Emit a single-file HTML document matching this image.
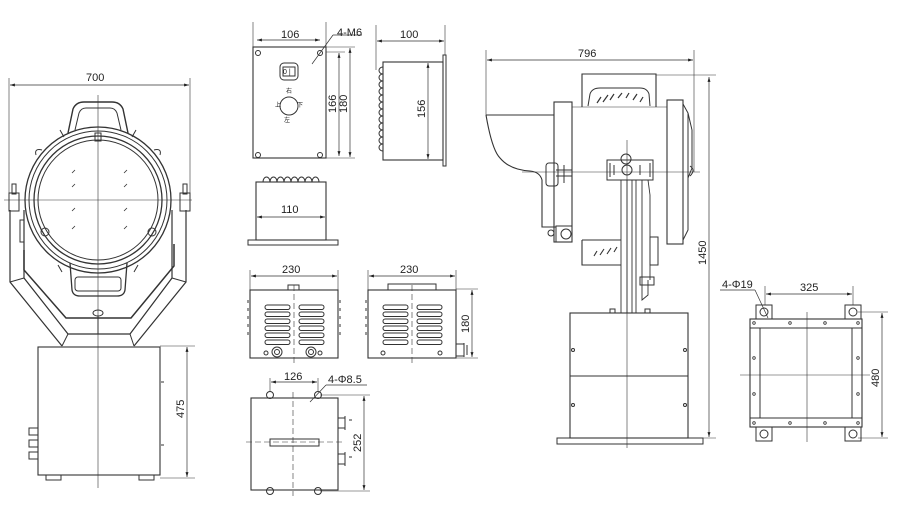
<!DOCTYPE html>
<html><head><meta charset="utf-8"><style>
html,body{margin:0;padding:0;background:#fff;}
svg{display:block}
text{font-family:"Liberation Sans","Noto Sans CJK SC",sans-serif;font-size:11px;fill:#222}
</style></head><body>
<svg width="900" height="513" viewBox="0 0 900 513" xmlns="http://www.w3.org/2000/svg">
<defs>
<marker id="a" viewBox="0 0 10 10" refX="10" refY="5" markerWidth="7" markerHeight="7" orient="auto-start-reverse"><path d="M0,2 L10,5 L0,8z" fill="#222"/></marker>
<g id="lv" fill="none" stroke="#333" stroke-width="1"><rect x="0" y="0" width="25" height="4.5" rx="2.2"/><rect x="0" y="7" width="25" height="4.5" rx="2.2"/><rect x="0" y="14" width="25" height="4.5" rx="2.2"/><rect x="0" y="21" width="25" height="4.5" rx="2.2"/><rect x="0" y="28" width="25" height="4.5" rx="2.2"/><rect x="0" y="35" width="25" height="4.5" rx="2.2"/></g>
</defs>
<g fill="none" stroke="#333" stroke-width="1">
<!-- ===== LEFT FRONT VIEW ===== -->
<line x1="9" y1="78" x2="9" y2="200" stroke-width=".6"/>
<line x1="190" y1="78" x2="190" y2="200" stroke-width=".6"/>
<line x1="10" y1="85" x2="189" y2="85" marker-start="url(#a)" marker-end="url(#a)" stroke-width=".7"/>
<path d="M68,133 L73,109 Q76,102 84,102 L112,102 Q120,102 123,109 L128,133" stroke-width="1.4"/>
<path d="M75,130 L79,113 Q81,108 86,108 L110,108 Q115,108 117,113 L121,130"/>
<circle cx="98" cy="200" r="73" stroke-width="1.3"/>
<circle cx="98" cy="200" r="69"/>
<circle cx="98" cy="200" r="64" stroke-width="1.3"/>
<circle cx="98" cy="200" r="60"/>
<path d="M42,150 Q34,148 36,155 M154,150 Q162,148 160,155 M60,130 L64,137 M136,130 L132,137"/>
<circle cx="45" cy="232" r="4"/><circle cx="152" cy="232" r="4"/>
<rect x="95" y="133" width="6" height="8"/>
<path d="M70,263 L72,290 Q73,296 80,296 L117,296 Q124,296 125,290 L127,263" stroke-width="1.3"/>
<rect x="75" y="277" width="46" height="14" rx="3"/>
<path d="M58,265 L62,272 M138,265 L134,272"/>
<g stroke-width=".8"><path d="M72,173l3,-3M72,187l3,-3M72,211l3,-3M72,229l3,-3M124,173l3,-3M124,187l3,-3M124,211l3,-3M124,229l3,-3"/></g>
<path d="M10,210 L10,282 L62,346 M24,210 L24,278 L68,334 L130,334 L172,278 L172,210 M186,210 L186,282 L134,346" stroke-width="1.2"/>
<path d="M24,250 L24,270 L66,318 L131,318 L174,266 L174,244" stroke-width="1.5"/>
<path d="M10,282 L24,278 M186,282 L172,278 M62,346 L68,334 M134,346 L130,334"/>
<rect x="9" y="193" width="10" height="18"/><rect x="180" y="193" width="10" height="18"/>
<rect x="12" y="184" width="4" height="10"/><rect x="183" y="184" width="4" height="10"/>
<rect x="20" y="220" width="4" height="22"/>
<ellipse cx="98" cy="313" rx="5" ry="3"/><line x1="98" y1="316" x2="98" y2="334"/>
<rect x="38" y="347" width="122" height="128" stroke-width="1.1"/>
<rect x="29" y="428" width="9" height="7"/><rect x="29" y="440" width="9" height="7"/><rect x="29" y="452" width="9" height="7"/>
<rect x="46" y="475" width="15" height="5"/><rect x="139" y="475" width="15" height="5"/>
<path d="M161,382h3M161,445h3"/>
<line x1="160" y1="346" x2="195" y2="346" stroke-width=".6"/>
<line x1="160" y1="478" x2="195" y2="478" stroke-width=".6"/>
<line x1="187" y1="347" x2="187" y2="477" marker-start="url(#a)" marker-end="url(#a)" stroke-width=".7"/>
<line x1="98" y1="95" x2="98" y2="488" stroke-width=".6"/>
<line x1="4" y1="200" x2="192" y2="200" stroke-width=".6"/>

<!-- ===== MIDDLE TOP PANEL ===== -->
<rect x="253" y="47" width="73" height="111" stroke-width="1.1"/>
<line x1="253" y1="22" x2="253" y2="47" stroke-width=".6"/><line x1="326" y1="22" x2="326" y2="47" stroke-width=".6"/>
<line x1="257" y1="40" x2="320" y2="40" marker-start="url(#a)" marker-end="url(#a)" stroke-width=".7"/>
<circle cx="258" cy="53" r="2.5"/><circle cx="320" cy="53" r="2.5"/><circle cx="258" cy="155" r="2.5"/><circle cx="320" cy="155" r="2.5"/>
<rect x="280" y="63" width="18" height="17" rx="4"/><rect x="283" y="67" width="12" height="9"/>
<circle cx="289" cy="106" r="9"/>
<line x1="312" y1="64" x2="333" y2="35" stroke-width=".7"/><line x1="333" y1="35" x2="362" y2="35" stroke-width=".7"/>
<line x1="326" y1="52" x2="345" y2="52" stroke-width=".6"/><line x1="326" y1="158" x2="355" y2="158" stroke-width=".6"/><line x1="326" y1="47" x2="355" y2="47" stroke-width=".6"/>
<line x1="339" y1="53" x2="339" y2="156" marker-start="url(#a)" marker-end="url(#a)" stroke-width=".7"/>
<line x1="350" y1="48" x2="350" y2="157" marker-start="url(#a)" marker-end="url(#a)" stroke-width=".7"/>
<rect x="383" y="62" width="60" height="98" stroke-width="1.1"/>
<rect x="443" y="55" width="3" height="111"/>
<path d="M383,67 a4,3.5 0 0 0 0,7 a4,3.5 0 0 0 0,7 a4,3.5 0 0 0 0,7 a4,3.5 0 0 0 0,7 a4,3.5 0 0 0 0,7 a4,3.5 0 0 0 0,7 a4,3.5 0 0 0 0,7 a4,3.5 0 0 0 0,7 a4,3.5 0 0 0 0,7 a4,3.5 0 0 0 0,7 a4,3.5 0 0 0 0,7 a4,3.5 0 0 0 0,7"/>
<line x1="376" y1="25" x2="376" y2="70" stroke-width=".6"/><line x1="445" y1="25" x2="445" y2="55" stroke-width=".6"/>
<line x1="377" y1="41" x2="444" y2="41" marker-start="url(#a)" marker-end="url(#a)" stroke-width=".7"/>
<line x1="428" y1="63" x2="428" y2="159" marker-start="url(#a)" marker-end="url(#a)" stroke-width=".7"/>
<rect x="256" y="182" width="70" height="58" stroke-width="1.1"/>
<rect x="248" y="240" width="90" height="5"/>
<path d="M263,182 a3.5,5 0 0 1 7,0 a3.5,5 0 0 1 7,0 a3.5,5 0 0 1 7,0 a3.5,5 0 0 1 7,0 a3.5,5 0 0 1 7,0 a3.5,5 0 0 1 7,0 a3.5,5 0 0 1 7,0 a3.5,5 0 0 1 7,0"/>
<line x1="257" y1="217" x2="325" y2="217" marker-start="url(#a)" marker-end="url(#a)" stroke-width=".7"/>

<!-- ===== TRANSFORMERS ===== -->
<line x1="250" y1="270" x2="250" y2="290" stroke-width=".6"/><line x1="338" y1="270" x2="338" y2="290" stroke-width=".6"/>
<line x1="251" y1="276" x2="337" y2="276" marker-start="url(#a)" marker-end="url(#a)" stroke-width=".7"/>
<rect x="250" y="290" width="88" height="68" stroke-width="1.1"/>
<rect x="288" y="285" width="11" height="5"/>
<use href="#lv" x="265" y="305"/><use href="#lv" x="299" y="305"/>
<use href="#lv" x="383" y="305"/><use href="#lv" x="417" y="305"/>
<path d="M248,300v3M248,308v3M248,316v3M248,324v3M248,332v3M340,300v3M340,308v3M340,316v3M340,324v3M340,332v3M366,300v3M366,308v3M366,316v3M366,324v3M366,332v3"/>
<circle cx="277" cy="352" r="5"/><circle cx="277" cy="352" r="2.5"/><circle cx="311" cy="352" r="5"/><circle cx="311" cy="352" r="2.5"/>
<circle cx="266" cy="353" r="2"/><circle cx="320" cy="353" r="2"/>
<line x1="294" y1="285" x2="294" y2="365" stroke-dasharray="6,3" stroke-width=".6"/>
<line x1="368" y1="270" x2="368" y2="290" stroke-width=".6"/><line x1="456" y1="270" x2="456" y2="290" stroke-width=".6"/>
<line x1="369" y1="276" x2="455" y2="276" marker-start="url(#a)" marker-end="url(#a)" stroke-width=".7"/>
<rect x="368" y="290" width="88" height="68" stroke-width="1.1"/>
<rect x="388" y="284" width="48" height="6"/>
<circle cx="383" cy="353" r="2"/><circle cx="440" cy="353" r="2"/>
<rect x="456" y="344" width="8" height="12"/><path d="M464,343v14M467,345v10"/>
<line x1="412" y1="285" x2="412" y2="365" stroke-dasharray="6,3" stroke-width=".6"/>
<line x1="456" y1="289" x2="478" y2="289" stroke-width=".6"/><line x1="456" y1="358" x2="478" y2="358" stroke-width=".6"/>
<line x1="472" y1="290" x2="472" y2="357" marker-start="url(#a)" marker-end="url(#a)" stroke-width=".7"/>
<rect x="251" y="398" width="87" height="92" stroke-width="1.1"/>
<circle cx="270" cy="395" r="3.5"/><circle cx="318" cy="395" r="3.5"/><circle cx="270" cy="491" r="3.5"/><circle cx="318" cy="491" r="3.5"/>
<rect x="270" y="439" width="49" height="7"/>
<line x1="293" y1="392" x2="293" y2="496" stroke-dasharray="6,3" stroke-width=".6"/>
<line x1="246" y1="442" x2="342" y2="442" stroke-dasharray="6,3" stroke-width=".6"/>
<rect x="338" y="418" width="7" height="10"/><path d="M345,416v14M349,420h3"/>
<rect x="338" y="454" width="7" height="10"/><path d="M345,452v14M349,457h3"/>
<line x1="270" y1="378" x2="270" y2="392" stroke-width=".6"/><line x1="318" y1="378" x2="318" y2="392" stroke-width=".6"/>
<line x1="271" y1="382" x2="317" y2="382" marker-start="url(#a)" marker-end="url(#a)" stroke-width=".7"/>
<line x1="310" y1="402" x2="326" y2="385" stroke-width=".7"/><line x1="326" y1="385" x2="367" y2="385" stroke-width=".7"/>
<line x1="320" y1="395" x2="370" y2="395" stroke-width=".6"/><line x1="320" y1="491" x2="370" y2="491" stroke-width=".6"/>
<line x1="364" y1="396" x2="364" y2="490" marker-start="url(#a)" marker-end="url(#a)" stroke-width=".7"/>

<!-- ===== RIGHT SIDE VIEW ===== -->
<line x1="486" y1="50" x2="486" y2="115" stroke-width=".6"/><line x1="694" y1="50" x2="694" y2="172" stroke-width=".6"/>
<line x1="487" y1="60" x2="693" y2="60" marker-start="url(#a)" marker-end="url(#a)" stroke-width=".7"/>
<line x1="656" y1="75" x2="716" y2="75" stroke-width=".6"/><line x1="688" y1="438" x2="716" y2="438" stroke-width=".6"/>
<line x1="709" y1="77" x2="709" y2="437" marker-start="url(#a)" marker-end="url(#a)" stroke-width=".7"/>
<path d="M486,115 L554,115 M486,115 Q492,150 500,158 Q510,170 530,171 Q540,172 542,180 L542,227 L556,227" stroke-width="1.1"/>
<rect x="554" y="102" width="18" height="140" stroke-width="1.1"/>
<rect x="546" y="163" width="12" height="23" rx="3"/>
<path d="M556,170h16M556,176h16M564,165v18"/>
<circle cx="551" cy="233" r="3"/><rect x="556" y="226" width="16" height="16"/><circle cx="566" cy="234" r="5"/>
<path d="M582,107 L582,74 L656,74 L656,107" stroke-width="1.1"/>
<path d="M588,106 L590,94 Q592,88 600,88 L640,88 Q647,88 649,94 L650,106"/>
<g stroke-width="1.2"><path d="M597,103l4,-6M603,102l5,-7M610,100l4,-6M618,98l4,-5M626,98l3,-5M633,100l4,-6M640,102l3,-5"/></g>
<line x1="572" y1="107" x2="667" y2="107" stroke-width=".6"/>
<rect x="667" y="100" width="16" height="144" stroke-width="1.1"/>
<path d="M683,104 L688,113 L688,230 L683,240 M688,113 L692,130 L692,168 L688,178"/>
<path d="M690,166 Q696,170 690,176"/>
<rect x="607" y="160" width="46" height="20"/>
<circle cx="626" cy="159" r="5"/><circle cx="627" cy="170" r="5"/>
<path d="M610,163v14M650,163v14M614,165v10M640,165v10"/>
<path d="M621,180 V313 M627,180 V313 M632,180 V313 M636,180 V313 M642,180 V300 L648,295 V280 M648,180 L650,195 V280" stroke-width=".9"/>
<rect x="640" y="277" width="14" height="8"/>
<path d="M582,240 L582,265 L621,265 M582,240 L621,240" stroke-width="1.1"/>
<g stroke-width="1.1"><path d="M594,256l3,-5M600,255l4,-6M607,254l4,-6M614,252l3,-5"/></g>
<rect x="650" y="237" width="8" height="28"/>
<rect x="570" y="313" width="118" height="125" stroke-width="1.1"/>
<line x1="570" y1="376" x2="688" y2="376"/>
<rect x="557" y="438" width="146" height="6"/>
<rect x="610" y="309" width="5" height="4"/><rect x="645" y="309" width="5" height="4"/>
<circle cx="573" cy="350" r="1.5"/><circle cx="685" cy="350" r="1.5"/><circle cx="573" cy="405" r="1.5"/><circle cx="685" cy="405" r="1.5"/>
<line x1="627" y1="140" x2="627" y2="448" stroke-width=".6"/>
<line x1="522" y1="172" x2="700" y2="172" stroke-width=".6"/>

<!-- ===== BASE PLAN ===== -->
<rect x="750" y="319" width="112" height="108" stroke-width="1.1"/>
<rect x="750" y="319" width="112" height="9"/><rect x="750" y="418" width="112" height="9"/>
<path d="M760,328V418M852,328V418"/>
<rect x="756" y="305" width="16" height="14"/><rect x="845" y="305" width="16" height="14"/>
<rect x="756" y="427" width="16" height="14"/><rect x="845" y="427" width="16" height="14"/>
<circle cx="764" cy="312" r="4"/><circle cx="853" cy="312" r="4"/><circle cx="764" cy="434" r="4"/><circle cx="853" cy="434" r="4"/>
<g stroke-width=".8"><circle cx="754" cy="323" r="1.3"/><circle cx="790" cy="323" r="1.3"/><circle cx="825" cy="323" r="1.3"/><circle cx="858" cy="323" r="1.3"/>
<circle cx="754" cy="423" r="1.3"/><circle cx="790" cy="423" r="1.3"/><circle cx="825" cy="423" r="1.3"/><circle cx="858" cy="423" r="1.3"/>
<circle cx="754" cy="358" r="1.3"/><circle cx="754" cy="394" r="1.3"/><circle cx="858" cy="358" r="1.3"/><circle cx="858" cy="394" r="1.3"/></g>
<line x1="807" y1="312" x2="807" y2="442" stroke-width=".6"/>
<line x1="740" y1="375" x2="870" y2="375" stroke-width=".6"/>
<line x1="765" y1="286" x2="765" y2="305" stroke-width=".6"/><line x1="853" y1="286" x2="853" y2="305" stroke-width=".6"/>
<line x1="766" y1="294" x2="852" y2="294" marker-start="url(#a)" marker-end="url(#a)" stroke-width=".7"/>
<line x1="720" y1="290" x2="755" y2="290" stroke-width=".7"/><line x1="755" y1="290" x2="768" y2="318" stroke-width=".7"/>
<line x1="858" y1="312" x2="888" y2="312" stroke-width=".6"/><line x1="858" y1="438" x2="888" y2="438" stroke-width=".6"/>
<line x1="882" y1="313" x2="882" y2="437" marker-start="url(#a)" marker-end="url(#a)" stroke-width=".7"/>
</g>
<text x="86" y="81">700</text>
<text x="0" y="0" transform="translate(184,418) rotate(-90)">475</text>
<text x="281" y="38">106</text>
<text x="337" y="36">4-M6</text>
<text x="0" y="0" transform="translate(336,113) rotate(-90)">166</text>
<text x="0" y="0" transform="translate(347,113) rotate(-90)">180</text>
<text x="400" y="38">100</text>
<text x="0" y="0" transform="translate(425,118) rotate(-90)">156</text>
<text x="281" y="213">110</text>
<text x="282" y="273">230</text>
<text x="400" y="273">230</text>
<text x="0" y="0" transform="translate(469,333) rotate(-90)">180</text>
<text x="284" y="380">126</text>
<text x="328" y="383">4-Φ8.5</text>
<text x="0" y="0" transform="translate(361,452) rotate(-90)">252</text>
<text x="578" y="57">796</text>
<text x="0" y="0" transform="translate(706,265) rotate(-90)">1450</text>
<text x="722" y="288">4-Φ19</text>
<text x="800" y="291">325</text>
<text x="0" y="0" transform="translate(879,387) rotate(-90)">480</text>
<text x="283" y="74" style="font-size:7px">0 |</text>
<text x="275" y="107" style="font-size:6px">上</text><text x="286" y="93" style="font-size:6px">右</text><text x="297" y="107" style="font-size:6px">下</text><text x="284" y="122" style="font-size:6px">左</text>
</svg>
</body></html>
